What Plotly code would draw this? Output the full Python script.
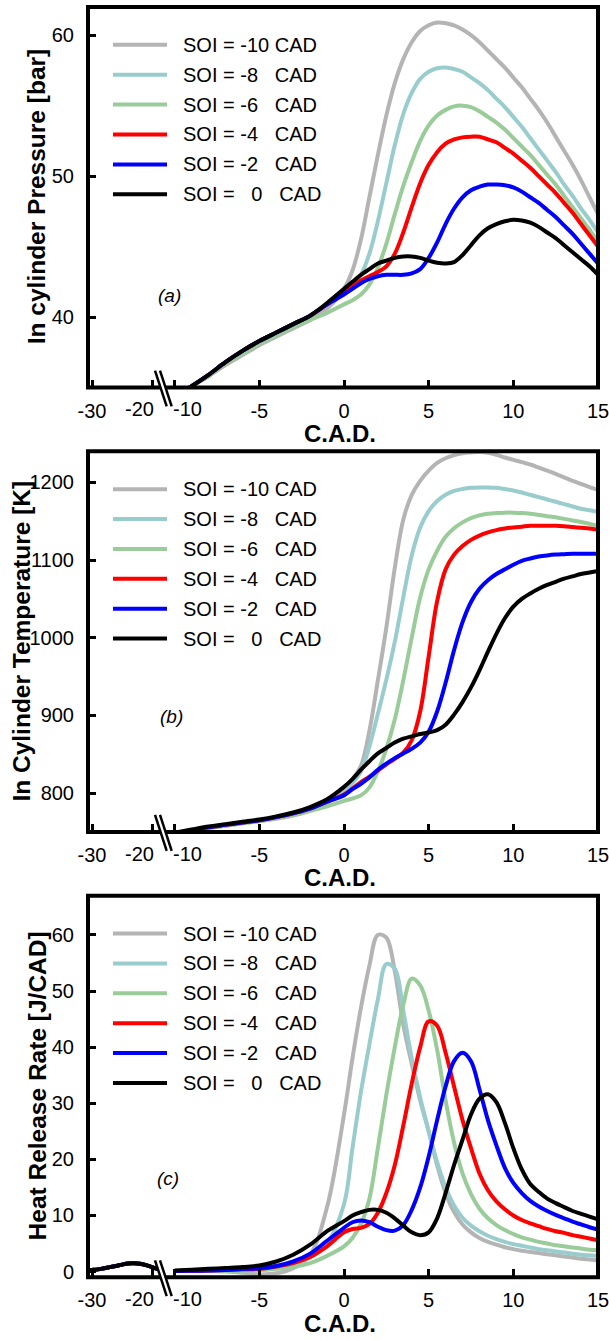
import plotly.graph_objects as go

# ---------------- data ----------------
SERIES = ["SOI = -10 CAD", "SOI = -8   CAD", "SOI = -6   CAD",
          "SOI = -4   CAD", "SOI = -2   CAD", "SOI =   0   CAD"]
COLORS = ["#b4b4b4", "#99cccc", "#99cc99", "#ff0000", "#0000ff", "#000000"]

CAD = [-10, -9, -8, -7, -6, -5, -4, -3, -2, -1,
       0, 0.5, 1, 1.5, 2, 2.5, 3, 3.5, 4, 4.5, 5, 5.5, 6, 6.5, 7, 7.5,
       8, 8.5, 9, 9.5, 10, 10.5, 11, 11.5, 12, 12.5, 13, 13.5, 14, 14.5, 15]

# (a) in-cylinder pressure [bar]
p_soi10 = [34.4, 35.1, 35.8, 36.6, 37.3, 38.0, 38.6, 39.2, 39.8, 40.6,
           42.0, 43.3, 45.5, 48.5, 51.5, 54.3, 56.6, 58.3, 59.5, 60.3, 60.7, 60.9, 60.85, 60.7, 60.4, 60.0,
           59.5, 58.9, 58.3, 57.7, 57.0, 56.3, 55.5, 54.7, 53.8, 52.8, 51.8, 50.8, 49.7, 48.5, 47.3]
p_soi8 = [34.4, 35.1, 35.9, 36.8, 37.6, 38.3, 38.9, 39.5, 40.1, 40.9,
          41.8, 42.3, 43.0, 44.5, 46.8, 49.5, 52.2, 54.4, 55.9, 56.9, 57.4, 57.65, 57.7, 57.6, 57.4, 57.0,
          56.6, 56.1, 55.5, 54.9, 54.2, 53.5, 52.7, 51.9, 51.1, 50.3, 49.4, 48.6, 47.7, 46.9, 46.0]
p_soi6 = [34.4, 35.1, 35.8, 36.7, 37.4, 38.1, 38.7, 39.3, 39.8, 40.3,
          40.9, 41.2, 41.6, 42.3, 43.5, 45.2, 47.3, 49.3, 51.0, 52.5, 53.6, 54.3, 54.7, 54.95, 55.0, 54.9,
          54.6, 54.2, 53.8, 53.3, 52.7, 52.1, 51.5, 50.8, 50.1, 49.4, 48.6, 47.8, 47.0, 46.2, 45.3]
p_soi4 = [34.4, 35.1, 35.9, 36.8, 37.6, 38.3, 38.9, 39.5, 40.1, 40.9,
          41.7, 42.2, 42.6, 42.9, 43.2, 43.6, 44.5, 46.0, 47.8, 49.5, 50.8, 51.7, 52.3, 52.6, 52.75, 52.8,
          52.8, 52.6, 52.4, 52.0, 51.6, 51.1, 50.6, 50.0, 49.4, 48.8, 48.1, 47.4, 46.6, 45.8, 45.0]
p_soi2 = [34.4, 35.1, 35.9, 36.8, 37.6, 38.3, 38.9, 39.5, 40.1, 40.9,
          41.6, 42.0, 42.4, 42.7, 42.9, 43.0, 43.0, 43.0, 43.1, 43.4, 44.2, 45.3, 46.6, 47.7, 48.5, 49.0,
          49.25, 49.4, 49.4, 49.35, 49.2, 48.9, 48.5, 48.1, 47.6, 47.1, 46.5, 45.9, 45.2, 44.5, 43.8]
p_soi0 = [34.4, 35.1, 35.9, 36.8, 37.6, 38.3, 38.9, 39.5, 40.1, 41.0,
          42.0, 42.5, 43.0, 43.4, 43.8, 44.0, 44.2, 44.3, 44.3, 44.2, 44.0, 43.85, 43.8, 43.9, 44.4, 45.1,
          45.8, 46.3, 46.6, 46.8, 46.9, 46.85, 46.7, 46.4, 46.0, 45.6, 45.1, 44.6, 44.1, 43.6, 43.0]

# (b) in-cylinder temperature [K]
t_soi10 = [747, 751, 755, 758, 761, 764, 767, 771, 777, 787,
           806, 818, 835, 880, 945, 1013, 1090, 1152, 1184, 1202, 1215, 1225, 1231, 1235, 1237.5, 1238.5,
           1239, 1238, 1235.5, 1232, 1229, 1226, 1223, 1219, 1215, 1211, 1206.5, 1202, 1198, 1194, 1190.5]
t_soi8 = [748, 752, 756, 759, 762, 765, 769, 774, 780, 790,
          803, 813, 828, 860, 902, 946, 995, 1052, 1106, 1142, 1163, 1176, 1184, 1189, 1191.5, 1193,
          1193.5, 1193.5, 1193, 1191.5, 1189.5, 1187, 1184, 1181, 1178, 1175, 1172, 1169, 1166, 1164, 1162]
t_soi6 = [748, 751, 755, 758, 761, 764, 768, 772, 777, 783,
          790, 793, 797, 807, 828, 857, 895, 945, 1000, 1052, 1088, 1112, 1130, 1141, 1148.5, 1154,
          1157.5, 1159.5, 1160.5, 1161, 1161, 1160.5, 1159.5, 1158, 1156.5, 1155, 1153, 1151, 1149, 1146.5, 1144]
t_soi4 = [748, 752, 756, 759, 762, 765, 769, 774, 780, 789,
          798, 806, 814, 821, 829, 837, 844, 852, 868, 905, 976, 1047, 1088, 1107, 1118, 1126,
          1131.5, 1135.5, 1138.5, 1140.5, 1142, 1143, 1144, 1144, 1144, 1144, 1143.5, 1142.5, 1141.5, 1140.5, 1139]
t_soi2 = [748, 752, 756, 759, 762, 765, 769, 774, 780, 789,
          797, 805, 812, 820, 830, 838, 845, 851, 857, 865, 879, 905, 942, 984, 1020, 1046,
          1063, 1074, 1082, 1088, 1094, 1099, 1102, 1104.5, 1106, 1107, 1107.5, 1108, 1108, 1108, 1108]
t_soi0 = [749, 753, 757, 760, 763, 766, 770, 775, 782, 792,
          808, 818, 830, 841, 851, 858, 865, 870, 873, 876, 878, 881, 888, 901, 917, 936,
          958, 982, 1005, 1025, 1040, 1050, 1057, 1063, 1068, 1072, 1076, 1079, 1082, 1084, 1086]

# (c) heat release rate [J/CAD]
PRE_CAD = [-30.5, -30, -29, -28, -27, -26, -25, -24, -23, -22, -21, -20, -19, -18]
hrr_pre = [0.25, 0.3, 0.4, 0.6, 0.8, 1.0, 1.25, 1.45, 1.5, 1.4, 1.15, 0.8, 0.45, 0.25]

h_soi10 = [0.1, 0.1, 0.1, 0.0, -0.2, -0.5, -0.3, 0.6, 3.0, 11.5,
           28, 38, 47, 54.5, 60, 59.5, 53.5, 44, 37, 30.5, 25, 19, 14, 10.6, 8.4, 7.0,
           6.0, 5.3, 4.8, 4.35, 4.0, 3.7, 3.5, 3.3, 3.1, 2.9, 2.7, 2.5, 2.3, 2.15, 2.0]
h_soi8 = [0.1, 0.1, 0.1, 0.15, 0.2, 0.3, 0.6, 1.2, 2.5, 5.0,
          12, 22, 32, 40.5, 48.5, 54.8, 54, 46.5, 38, 31, 25, 19.5, 15, 11.8, 9.6, 8.2,
          7.2, 6.4, 5.8, 5.3, 4.9, 4.6, 4.3, 4.0, 3.8, 3.6, 3.4, 3.2, 3.0, 2.9, 2.8]
h_soi6 = [0.1, 0.1, 0.1, 0.1, 0.2, 0.3, 0.5, 0.8, 1.5, 2.8,
          4.5, 6.0, 8.5, 13, 22, 31.5, 40, 47.5, 52.2, 51, 46.5, 39.5, 30.5, 23, 17.5, 13.8,
          11.2, 9.5, 8.3, 7.4, 6.7, 6.1, 5.7, 5.3, 5.0, 4.7, 4.5, 4.3, 4.1, 3.9, 3.8]
h_soi4 = [0.1, 0.15, 0.2, 0.3, 0.4, 0.5, 0.9, 1.5, 2.6, 4.5,
          7.0, 7.6, 7.8, 8.5, 10.5, 14, 19, 26, 33.5, 40, 44.6, 43.8, 39, 33, 27, 22,
          17.5, 14.5, 12.5, 11.1, 10.0, 9.2, 8.6, 8.1, 7.6, 7.2, 6.9, 6.5, 6.2, 5.9, 5.6]
h_soi2 = [0.1, 0.15, 0.2, 0.3, 0.45, 0.6, 1.0, 1.8, 3.2, 5.5,
          7.8, 8.8, 9.1, 8.8, 8.0, 7.4, 7.3, 8.3, 11, 15, 20.5, 27, 33, 37.5, 39, 37.5,
          32.5, 27, 22.5, 18.5, 15.8, 14.0, 12.6, 11.6, 10.8, 10.1, 9.5, 8.9, 8.4, 7.9, 7.5]
h_soi0 = [0.2, 0.35, 0.5, 0.65, 0.8, 1.1, 1.8, 3.0, 4.8, 7.2,
          9.0, 10.0, 10.6, 11, 11, 10.5, 9.5, 8.2, 7.0, 6.5, 7.0, 9.5, 14, 19, 23.5, 28,
          30.8, 31.6, 30.2, 26.5, 22, 18.2, 15.6, 14.2, 13, 12.2, 11.5, 10.8, 10.3, 9.8, 9.3]

PRESSURE = [p_soi10, p_soi8, p_soi6, p_soi4, p_soi2, p_soi0]
TEMPERATURE = [t_soi10, t_soi8, t_soi6, t_soi4, t_soi2, t_soi0]
HRR = [h_soi10, h_soi8, h_soi6, h_soi4, h_soi2, h_soi0]

Y_TITLES = ["In cylinder Pressure [bar]", "In Cylinder Temperature [K]", "Heat Release Rate [J/CAD]"]
Y_RANGES = [[35, 62], [750, 1240], [-1, 67]]
Y_TICKS = [[40, 50, 60], [800, 900, 1000, 1100, 1200], [0, 10, 20, 30, 40, 50, 60]]
PANEL_TAGS = ["(a)", "(b)", "(c)"]
SEG1_TICKS = [-30, -20]
SEG1_LABELS = ["-30", ""]
SEG2_TICKS = [-10, -5, 0, 5, 10, 15]
SEG2_LABELS = ["", "-5", "0", "5", "10", "15"]
BREAK_LABELS = [("-20", 139.5), ("-10", 187)]   # labels set beside the axis break

# ---------------- geometry (pixels) ----------------
W, H = 609, 1340
L, R = 88, 598
BREAK_PX = 164
PANELS_PX = [(7, 389), (453, 835), (899, 1282)]   # top, bottom
TAG_PX = [(169, 297), (171, 719), (168, 1183)]
YTITLE_X = [36, 22, 37]
FONT = "Liberation Sans, Arial, sans-serif"
NB = "\u00a0"


def fx(px):
    return (px - L) / (R - L)


def fy(py):
    return 1 - py / H


fig = go.Figure()
bx = fx(BREAK_PX)
layout_axes = {}
shapes = []
annotations = []

for i in range(3):
    top, bot = PANELS_PX[i]
    ydom = [fy(bot), fy(top)]
    x1id, x2id, yid = 2 * i + 1, 2 * i + 2, i + 1
    x1n = "xaxis" if x1id == 1 else f"xaxis{x1id}"
    x2n = f"xaxis{x2id}"
    yn = "yaxis" if yid == 1 else f"yaxis{yid}"
    x1r = "x" if x1id == 1 else f"x{x1id}"
    x2r = f"x{x2id}"
    yr = "y" if yid == 1 else f"y{yid}"

    tick_common = dict(ticks="inside", ticklen=8, tickwidth=3, tickcolor="black",
                       showgrid=False, zeroline=False, showline=False,
                       ticklabeloverflow="allow",
                       tickfont=dict(family=FONT, size=20, color="black"))
    layout_axes[x1n] = dict(domain=[0, bx], range=[-30.67, -18.0], anchor=yr,
                            tickmode="array", tickvals=SEG1_TICKS, ticktext=SEG1_LABELS,
                            ticklabelstandoff=9, **tick_common)
    layout_axes[x2n] = dict(domain=[bx, 1], range=[-10.63, 15], anchor=yr,
                            tickmode="array", tickvals=SEG2_TICKS, ticktext=SEG2_LABELS,
                            ticklabelstandoff=9, **tick_common)
    layout_axes[yn] = dict(domain=ydom, range=Y_RANGES[i], anchor=x1r,
                           tickmode="array", tickvals=Y_TICKS[i], ticklabelstandoff=13,
                           **tick_common)

    data = [PRESSURE, TEMPERATURE, HRR][i]
    for k in range(6):
        line = dict(color=COLORS[k], width=4, shape="spline", smoothing=1.0)
        if i == 2:
            fig.add_trace(go.Scatter(x=PRE_CAD, y=hrr_pre, mode="lines", line=line,
                                     xaxis=x1r, yaxis=yr, showlegend=False, hoverinfo="skip"))
        else:
            fig.add_trace(go.Scatter(x=[], y=[], mode="lines", line=line,
                                     xaxis=x1r, yaxis=yr, showlegend=False, hoverinfo="skip"))
        fig.add_trace(go.Scatter(x=CAD, y=data[k], mode="lines", line=line, name=SERIES[k],
                                 xaxis=x2r, yaxis=yr, showlegend=False))

    # frame
    shapes.append(dict(type="rect", xref="paper", yref="paper", x0=0, x1=1,
                       y0=ydom[0], y1=ydom[1], line=dict(color="black", width=4),
                       layer="above"))
    # axis break marks
    ya, yb = bot - 17, bot + 19
    shapes.append(dict(type="path", xref="paper", yref="paper",
                       path=f"M {fx(155)} {fy(ya)} L {fx(160)} {fy(ya)} L {fx(171.7)} {fy(yb)} L {fx(166.7)} {fy(yb)} Z",
                       fillcolor="white", line=dict(width=0), layer="above"))
    for dx in (0, 5):
        shapes.append(dict(type="line", xref="paper", yref="paper",
                           x0=fx(155 + dx), y0=fy(ya), x1=fx(166.7 + dx), y1=fy(yb),
                           line=dict(color="black", width=2.5), layer="above"))
    # tick labels beside the break
    for txt, lx in BREAK_LABELS:
        annotations.append(dict(text=txt, xref="paper", yref="paper", x=fx(lx), y=fy(bot + 22),
                                xanchor="center", yanchor="middle", showarrow=False,
                                font=dict(family=FONT, size=20, color="black")))

    # legend (drawn per panel)
    legend_text = ["SOI = -10 CAD", "SOI = -8" + NB * 3 + "CAD", "SOI = -6" + NB * 3 + "CAD",
                   "SOI = -4" + NB * 3 + "CAD", "SOI = -2" + NB * 3 + "CAD",
                   "SOI =" + NB * 3 + "0" + NB * 3 + "CAD"]
    for k in range(6):
        ly = top + 38 + 30 * k
        shapes.append(dict(type="line", xref="paper", yref="paper",
                           x0=fx(113), x1=fx(167), y0=fy(ly), y1=fy(ly),
                           line=dict(color=COLORS[k], width=4), layer="above"))
        annotations.append(dict(text=legend_text[k], xref="paper", yref="paper",
                                x=fx(181), y=fy(ly), xanchor="left", yanchor="middle",
                                showarrow=False, font=dict(family=FONT, size=20, color="black")))

    # panel tag
    annotations.append(dict(text=f"<i>{PANEL_TAGS[i]}</i>", xref="paper", yref="paper",
                            x=fx(TAG_PX[i][0]), y=fy(TAG_PX[i][1]), xanchor="center",
                            yanchor="middle", showarrow=False,
                            font=dict(family=FONT, size=19, color="black")))
    # y title
    annotations.append(dict(text=f"<b>{Y_TITLES[i]}</b>", xref="paper", yref="paper",
                            x=fx(YTITLE_X[i]), y=fy((top + bot) / 2), xanchor="center",
                            yanchor="middle", textangle=-90, showarrow=False,
                            font=dict(family=FONT, size=24.5, color="black")))
    # x title
    annotations.append(dict(text="<b>C.A.D.</b>", xref="paper", yref="paper",
                            x=fx(340), y=fy(bot + 46), xanchor="center", yanchor="middle",
                            showarrow=False, font=dict(family=FONT, size=24, color="black")))

fig.update_layout(width=W, height=H, margin=dict(l=L, r=W - R, t=0, b=0),
                  paper_bgcolor="white", plot_bgcolor="white",
                  showlegend=False, shapes=shapes, annotations=annotations,
                  font=dict(family=FONT, color="black"), **layout_axes)

fig.write_html("out.html", config={"displayModeBar": False},
               post_script="document.body.style.margin='0';document.body.style.overflow='hidden';")
